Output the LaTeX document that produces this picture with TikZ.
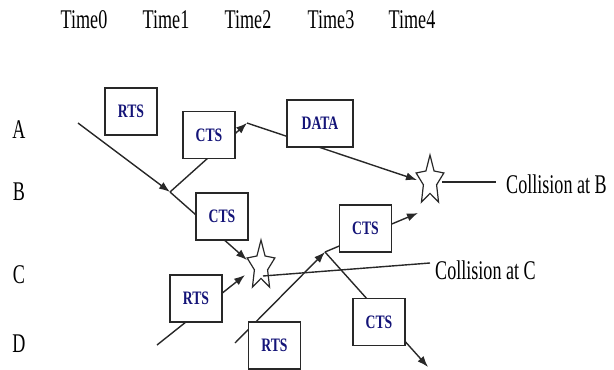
\documentclass[tikz,border=0pt]{standalone}
\usepackage{fontspec}
\usepackage{xcolor}
\usepackage{tikz}
\usetikzlibrary{shapes.geometric,arrows.meta}
\newfontfamily\tagfont[FakeStretch=0.67]{Liberation Serif}
\newfontfamily\msgfont[FakeStretch=0.72]{Liberation Serif}
\definecolor{msgblue}{RGB}{20,20,120}
\definecolor{inkgray}{RGB}{40,40,40}

\begin{document}
\begin{tikzpicture}[x=1pt,y=-1pt,
    msg/.style={draw=inkgray, line width=1.6pt, fill=white, rectangle, minimum width=52pt, minimum height=47pt, inner sep=0pt, font=\msgfont\bfseries\fontsize{19}{20}\selectfont, text=msgblue},
    tag/.style={font=\tagfont\fontsize{27}{28}\selectfont, inner sep=0pt},
    hit/.style={star, star points=5, star point ratio=2.1, draw=inkgray, line width=1.2pt, minimum size=52pt, inner sep=0pt, xscale=0.56, transform shape},
    sig/.style={line width=1.4pt, draw=inkgray, -{Latex[length=11pt,width=8pt]}},
    wire/.style={line width=1.4pt, draw=inkgray}]
        \useasboundingbox (0,0) rectangle (614,370);

        % Time axis and stations
        \foreach \t/\x in {0/84,1/166,2/248,3/331,4/412}
            \node[tag, anchor=base] (time\t) at (\x,28) {Time\t};
        \foreach \r/\y in {A/138,B/200,C/283,D/352}
            \node[tag, anchor=base] (row\r) at (19,\y) {\r};

        % Event points
        \coordinate (aSend) at (78,123);
        \coordinate (bRecv) at (170,192);
        \coordinate (aRecv) at (247,123);
        \coordinate (cRecv) at (247,260);
        \coordinate (dSend) at (157,345);
        \coordinate (cGot) at (245,275);
        \coordinate (bGot) at (417,180);
        \coordinate (bGot2) at (418,213);
        \coordinate (dSend2) at (235,343);
        \coordinate (cSend) at (325,252);
        \coordinate (dRecv) at (428,367);
        \coordinate (bFrom) at (442,182);
        \coordinate (bTo) at (496,182);
        \coordinate (cFrom) at (263,276);
        \coordinate (cTo) at (430,263);

        % Collisions
        \node[hit] (hitB) at (430,181) {};
        \node[hit] (hitC) at (261,266) {};

        % Signals
        \draw[sig] (aSend) -- (bRecv);
        \draw[sig] (bRecv) -- (aRecv);
        \draw[sig] (bRecv) -- (cRecv);
        \draw[sig] (aRecv) -- (bGot);
        \draw[sig] (dSend) -- (cGot);
        \draw[sig] (dSend2) -- (cSend);
        \draw[sig] (cSend) -- (bGot2);
        \draw[sig] (cSend) -- (dRecv);
        \draw[wire] (bFrom) -- (bTo);
        \draw[wire] (cFrom) -- (cTo);

        % Frames
        \node[msg] (rts1) at (131,111.5) {RTS};
        \node[msg] (cts1) at (209,135) {CTS};
        \node[msg, minimum width=66pt] (data) at (320,123.5) {DATA};
        \node[msg] (cts2) at (222,216.5) {CTS};
        \node[msg] (rts2) at (196,298.5) {RTS};
        \node[msg] (rts3) at (274.5,345.5) {RTS};
        \node[msg] (cts3) at (365.5,228.5) {CTS};
        \node[msg] (cts4) at (379,322) {CTS};

        % Labels
        \node[tag, anchor=west] (noteB) at (506,184) {Collision at B};
        \node[tag, anchor=west] (noteC) at (435,270) {Collision at C};
    \end{tikzpicture}
\end{document}
